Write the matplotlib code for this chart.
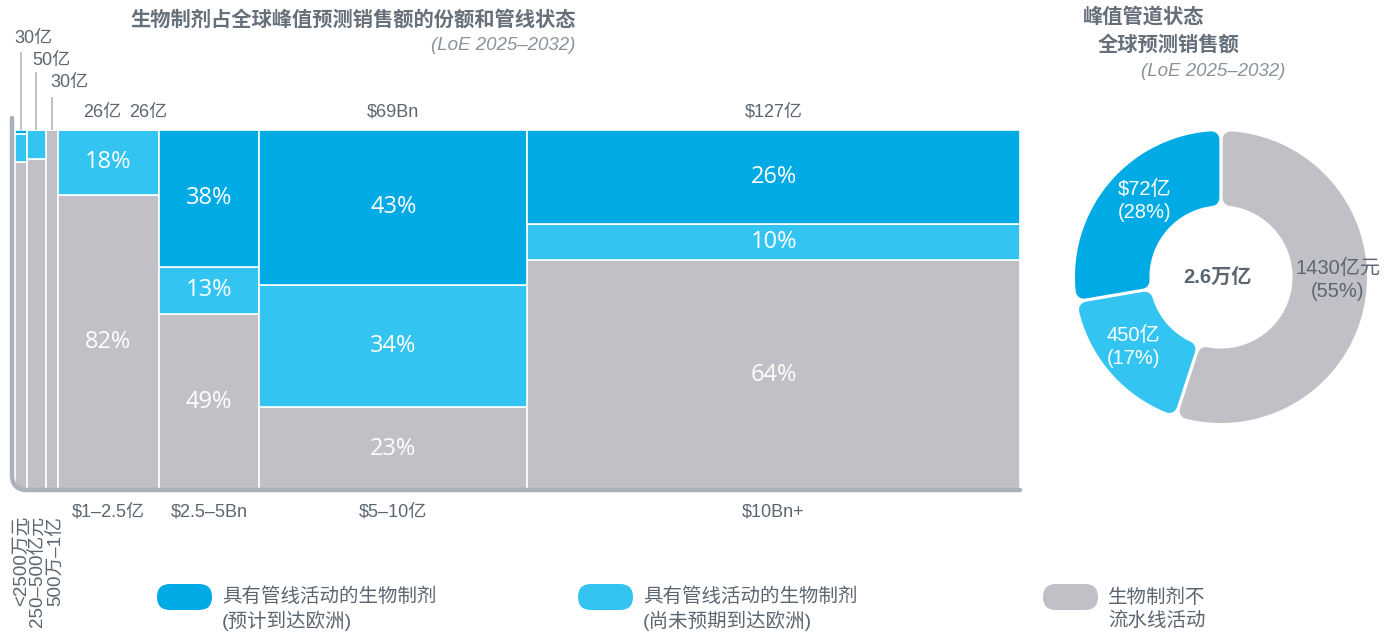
import numpy as np
import matplotlib
matplotlib.use('Agg')
import matplotlib.pyplot as plt
from matplotlib.patches import Polygon, FancyBboxPatch, PathPatch
from matplotlib.path import Path

plt.rcParams['font.family'] = ['Liberation Sans', 'Noto Sans CJK SC', 'DejaVu Sans']

# marimekko: column width = peak sales, stacks = share by pipeline status
segments = ['<2500万元', '250–500亿元', '500万–1亿', '$1–2.5亿', '$2.5–5Bn', '$5–10亿', '$10Bn+']
sizes = [3, 5, 3, 26, 26, 69, 127]
size_labels = ['30亿', '50亿', '30亿', '26亿', '26亿', '$69Bn', '$127亿']
dark_pct = [1, 0, 0, 0, 38, 43, 26]
light_pct = [8, 8, 0, 18, 13, 34, 10]
gray_pct = [91, 92, 100, 82, 49, 23, 64]

# donut
pipe_vals = [72, 45, 143]
pipe_labels = ['$72亿', '450亿', '1430亿元']
pipe_total = '2.6万亿'

legend_labels = ['具有管线活动的生物制剂\n(预计到达欧洲)',
                 '具有管线活动的生物制剂\n(尚未预期到达欧洲)',
                 '生物制剂不\n流水线活动']

DARK = '#00AAE4'
LIGHT = '#33C4F2'
GRAY = '#C1C0C6'
TXT = '#5B6670'
FRAME = '#AAB1B8'

W, H = 1394, 637
fig = plt.figure(figsize=(W / 100, H / 100), dpi=100)

# main chart
ax = fig.add_axes([15 / W, (H - 490) / H, 1005 / W, 360 / H])
ax.set_facecolor('none')
sizes_a = np.array(sizes, float)
lefts = np.concatenate([[0], np.cumsum(sizes_a)[:-1]])
centers = lefts + sizes_a / 2
g = np.array(gray_pct, float)
l = np.array(light_pct, float)
d = np.array(dark_pct, float)
kw = dict(align='edge', edgecolor='white', linewidth=1.2)
ax.bar(lefts, g, sizes_a, bottom=0, color=GRAY, **kw)
ax.bar(lefts, l, sizes_a, bottom=g, color=LIGHT, **kw)
ax.bar(lefts, d, sizes_a, bottom=g + l, color=DARK, **kw)
ax.set_xlim(0, sizes_a.sum())
ax.set_ylim(0, 100)
ax.set_axis_off()

# percent labels inside the wide columns
for i in range(len(sizes)):
    if sizes[i] < 20:
        continue
    for val, base in ((g[i], 0), (l[i], g[i]), (d[i], g[i] + l[i])):
        if val > 0:
            ax.text(centers[i], base + val / 2, f'{int(val)}%', ha='center', va='center',
                    color='white', fontsize=17, family='Open Sans')

# leader lines for the narrow columns
for i, top in zip(range(3), [121.7, 116.1, 109.2]):
    ax.plot([centers[i], centers[i]], [100, top], color='#B9BDC2', lw=1.3,
            clip_on=False, solid_capstyle='butt')
for i in (5, 6):
    ax.text(centers[i], 105, size_labels[i], ha='center', va='center', color=TXT,
            fontsize=13, clip_on=False)

# category labels below
for i in range(3, len(segments)):
    ax.text(centers[i], -6, segments[i], ha='center', va='center', color=TXT,
            fontsize=13, clip_on=False)

# donut
R_PX = 146
cx, cy, half = 1221, 277, 160
dax = fig.add_axes([(cx - half) / W, (H - cy - half) / H, 2 * half / W, 2 * half / H])
wedges, _ = dax.pie(pipe_vals, startangle=90, counterclock=True, radius=1,
                    wedgeprops=dict(width=0.51))
lim = half / R_PX
dax.set_xlim(-lim, lim)
dax.set_ylim(-lim, lim)
dax.set_aspect('equal')


def rounded_ring_piece(a, t1, t2, r_in, r_out, color, rad=0.055, gap=0.022):
    # inset the sector, then stroke it with round joins to get rounded corners
    ro, ri, off = r_out - rad, r_in + rad, rad + gap / 2
    a1o, a2o = t1 + np.degrees(np.arcsin(off / ro)), t2 - np.degrees(np.arcsin(off / ro))
    a1i, a2i = t1 + np.degrees(np.arcsin(off / ri)), t2 - np.degrees(np.arcsin(off / ri))
    to = np.radians(np.linspace(a1o, a2o, 120))
    ti = np.radians(np.linspace(a2i, a1i, 120))
    pts = np.vstack([np.c_[ro * np.cos(to), ro * np.sin(to)],
                     np.c_[ri * np.cos(ti), ri * np.sin(ti)]])
    lw = 2 * rad * R_PX * 0.72
    a.add_patch(Polygon(pts, closed=True, facecolor=color, edgecolor=color, lw=lw,
                        joinstyle='round'))


for w, c in zip(wedges, [DARK, LIGHT, GRAY]):
    w.set_visible(False)
    rounded_ring_piece(dax, w.theta1, w.theta2, w.r - w.width, w.r, c)

# pixel overlay on top for frame, titles, labels, legend
ov = fig.add_axes([0, 0, 1, 1])
ov.set_xlim(0, W)
ov.set_ylim(H, 0)
ov.set_axis_off()
ov.set_zorder(10)

for i, (x, y) in enumerate([(14, 38), (32, 60), (50, 82)]):
    ov.text(x, y, size_labels[i], ha='left', va='center', color=TXT, fontsize=13)
ov.text(102, 112, size_labels[3], ha='center', va='center', color=TXT, fontsize=13)
ov.text(148, 112, size_labels[4], ha='center', va='center', color=TXT, fontsize=13)
for i, x in zip(range(3), [21, 38, 57]):
    ov.text(x, 516, segments[i], rotation=90, ha='center', va='top', color=TXT,
            fontsize=13.5)

# axis frame with rounded corner
verts = [(12, 118), (12, 475), (12, 490), (27, 490), (1020, 490)]
codes = [Path.MOVETO, Path.LINETO, Path.CURVE3, Path.CURVE3, Path.LINETO]
ov.add_patch(PathPatch(Path(verts, codes), fill=False, edgecolor=FRAME, lw=3.2,
                       capstyle='round'))

# titles
ov.text(353, 20, '生物制剂占全球峰值预测销售额的份额和管线状态', ha='center', va='center',
        color='#66707A', fontsize=14.6, fontweight='bold')
ov.text(575, 45, '(LoE 2025–2032)', ha='right', va='center', color='#8A939B',
        fontsize=13.5, style='italic')
ov.text(1083, 18, '峰值管道状态', ha='left', va='center', color='#66707A',
        fontsize=14.6, fontweight='bold')
ov.text(1098, 45, '全球预测销售额', ha='left', va='center', color='#66707A',
        fontsize=14.6, fontweight='bold')
ov.text(1285, 72, '(LoE 2025–2032)', ha='right', va='center', color='#8A939B',
        fontsize=13.5, style='italic')

# donut labels
total = sum(pipe_vals)
pct = [round(v / total * 100) for v in pipe_vals]
for (x, y), lab, p, col in zip([(1145, 201), (1133, 347), (1338, 280)], pipe_labels, pct,
                               ['white', 'white', TXT]):
    ov.text(x, y, f'{lab}\n({p}%)', ha='center', va='center', color=col, fontsize=14.5,
            linespacing=1.3)
ov.text(cx - 4, cy, pipe_total, ha='center', va='center', color=TXT, fontsize=14.5,
        fontweight='bold')

# legend
for x, col, lab in zip([157, 578, 1043], [DARK, LIGHT, GRAY], legend_labels):
    ov.add_patch(FancyBboxPatch((x, 584), 55, 26, boxstyle='round,pad=0,rounding_size=13',
                                facecolor=col, edgecolor='none'))
    ov.text(x + 65, 609, lab, ha='left', va='center', color=TXT, fontsize=14,
            linespacing=1.3)

fig.savefig('out.png', dpi=100)
